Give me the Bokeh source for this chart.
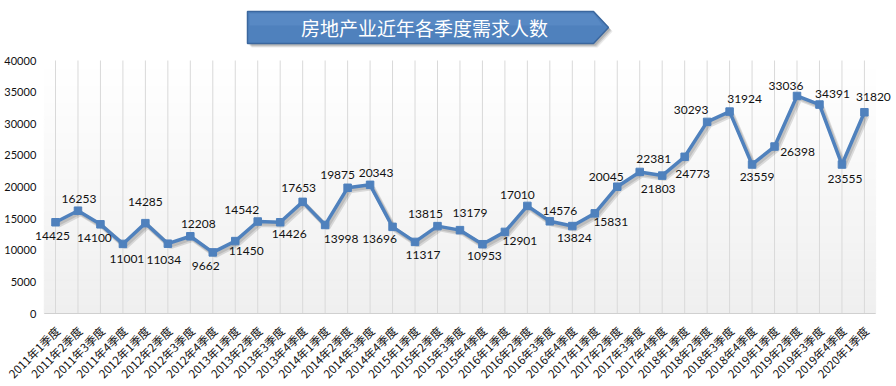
import numpy as np
from bokeh.plotting import figure
from bokeh.models import ColumnDataSource, Range1d, LabelSet
from bokeh.layouts import column
from bokeh.embed import file_html
from bokeh.resources import INLINE
from bokeh.core.properties import value

title_text = "房地产业近年各季度需求人数"

categories = [
    "2011年1季度", "2011年2季度", "2011年3季度", "2011年4季度",
    "2012年1季度", "2012年2季度", "2012年3季度", "2012年4季度",
    "2013年1季度", "2013年2季度", "2013年3季度", "2013年4季度",
    "2014年1季度", "2014年2季度", "2014年3季度", "2014年4季度",
    "2015年1季度", "2015年2季度", "2015年3季度", "2015年4季度",
    "2016年1季度", "2016年2季度", "2016年3季度", "2016年4季度",
    "2017年1季度", "2017年2季度", "2017年3季度", "2017年4季度",
    "2018年1季度", "2018年2季度", "2018年3季度", "2018年4季度",
    "2019年1季度", "2019年2季度", "2019年3季度", "2019年4季度",
    "2020年1季度",
]

values = [14425, 16253, 14100, 11001, 14285, 11034, 12208, 9662, 11450, 14542,
          14426, 17653, 13998, 19875, 20343, 13696, 11317, 13815, 13179, 10953,
          12901, 17010, 14576, 13824, 15831, 20045, 22381, 21803, 24773, 30293,
          31924, 23559, 26398, 34391, 33036, 23555, 31820]

label_texts = ["14425", "16253", "14100", "11001", "14285", "11034", "12208", "9662",
               "11450", "14542", "14426", "17653", "13998", "19875", "20343", "13696",
               "11317", "13815", "13179", "10953", "12901", "17010", "14576", "13824",
               "15831", "20045", "22381", "21803", "24773", "30293", "31924", "23559",
               "26398", "33036", "34391", "23555", "31820"]

y_ticks = [0, 5000, 10000, 15000, 20000, 25000, 30000, 35000, 40000]
y_tick_labels = ["0", "5000", "10000", "15000", "20000", "25000", "30000", "35000", "40000"]

# label placement offsets in screen pixels (dx right, dy down)
label_dx = [-3, 1, -6, 4, 0, -4, 8, -7, 11, -16, 9, -4, 16, -10, 6, -13, 8, -12, 10, 2,
            15, -10, 10, 2, 16, -11, 14, -4, 8, -16, 15, 5, 23, -11, 13, 3, 9]
label_dy = [14, -12, 14, 15, -21, 16, -12, 14, 10, -12, 12, -14, 14, -13, -12, 12, 13, -12, -17, 12,
            9, -11, -10, 12, 9, -10, -13, 13, 17, -12, -13, 13, 5, -10, -11, 14, -15]

BLUE = "#4F81BD"
W = 896
TITLE_H = 53
MAIN_H = 333

# ---------------- title banner ----------------
t = figure(width=W, height=TITLE_H, x_range=Range1d(0, W), y_range=Range1d(TITLE_H, 0),
           output_backend="svg", toolbar_location=None, min_border=0)
t.axis.visible = False
t.grid.visible = False
t.outline_line_color = None
t.background_fill_color = "white"
t.border_fill_color = "white"

bx = [247, 593, 608, 593, 247]
by = [11, 11, 27, 43, 43]
for off, a in [(4, 0.12), (3, 0.18), (2, 0.22)]:
    t.patch([v + off for v in bx], [v + off for v in by], fill_color="#555555",
            fill_alpha=a, line_color=None)
t.patch(bx, by, fill_color=BLUE, line_color="#3B679E", line_width=1.5)
t.patch([bx[0] + 2, bx[1], bx[2] - 6, bx[0] + 2], [by[0] + 2, by[1] + 2, 25, 25],
        fill_color="#6A98D2", fill_alpha=0.35, line_color=None)
t.text(x=[424], y=[27], text=[title_text], text_font=value("Noto Sans CJK SC"),
       text_font_size="19px", text_color="white", text_align="center",
       text_baseline="middle")

# ---------------- main chart ----------------
n_cat = len(categories)
x = list(range(n_cat))
ymax = y_ticks[-1]
S = 253.0 / ymax            # px per value unit (plot area 253 px tall)
C = 22.47                   # px per category
y_start = -73.0 / S         # space below value axis for category labels
y_end = ymax + 7.0 / S
x_start = -55.0 / C
x_end = x_start + W / C

p = figure(width=W, height=MAIN_H, x_range=Range1d(x_start, x_end),
           y_range=Range1d(y_start, y_end), x_axis_location=None, y_axis_location=None,
           output_backend="svg", toolbar_location=None, min_border=0)
p.outline_line_color = None
p.background_fill_color = "white"
p.border_fill_color = "white"
p.xgrid.visible = False
p.ygrid.visible = False

# gradient background of plot area
n = 60
edges = np.linspace(0, ymax, n + 1)
frac = np.linspace(0, 1, n)
cols = []
for f in frac:
    g = int(round(0xEF + (0xFF - 0xEF) * f))
    cols.append("#%02x%02x%02x" % (g, g, g))
bg = p.quad(left=-0.5, right=n_cat - 0.5, bottom=edges[:-1], top=edges[1:],
            fill_color=cols, line_color=cols, line_width=1)
bg.level = "image"

# vertical grid lines at each category
gl = p.segment(x0=x, y0=[0] * n_cat, x1=x, y1=[ymax] * n_cat, line_color="#D9D9D9", line_width=1)
gl.level = "underlay"
# category axis line
al = p.segment(x0=[-0.5], y0=[0], x1=[n_cat - 0.5], y1=[0], line_color="#D0D0D0", line_width=1.2)
al.level = "underlay"

# category (x) tick labels
cat_src = ColumnDataSource(dict(x=x, y=[0] * n_cat, text=categories))
p.add_layout(LabelSet(x="x", y="y", text="text", source=cat_src, angle=np.pi / 4,
                      x_offset=2, y_offset=-15, text_align="right", text_baseline="middle",
                      text_font=value("Noto Sans CJK SC"), text_font_size="11.5px",
                      text_color="#111111"))

# value (y) tick labels
yt_src = ColumnDataSource(dict(x=[-0.5] * len(y_ticks), y=y_ticks, text=y_tick_labels))
p.add_layout(LabelSet(x="x", y="y", text="text", source=yt_src, x_offset=-8,
                      text_align="right", text_baseline="middle",
                      text_font=value("Lato"), text_font_size="11px", text_color="#111111"))

# shadow of line
p.line([v + 0.12 for v in x], [v - 480 for v in values], line_width=5,
       color="#000000", alpha=0.12)
p.line([v + 0.08 for v in x], [v - 320 for v in values], line_width=4,
       color="#000000", alpha=0.12)
p.line(x, values, line_width=3.5, color=BLUE)
p.scatter(x, values, marker="square", size=7.5, fill_color=BLUE, line_color=BLUE)

src = ColumnDataSource(dict(x=x, y=values, text=label_texts,
                            dx=label_dx, dy=[-d for d in label_dy]))
p.add_layout(LabelSet(x="x", y="y", text="text", x_offset="dx", y_offset="dy", source=src,
                      text_align="center", text_baseline="middle",
                      text_font=value("Lato"), text_font_size="12px", text_color="#111111"))

layout = column(t, p)
open("out.html", "w").write(file_html(layout, INLINE))
